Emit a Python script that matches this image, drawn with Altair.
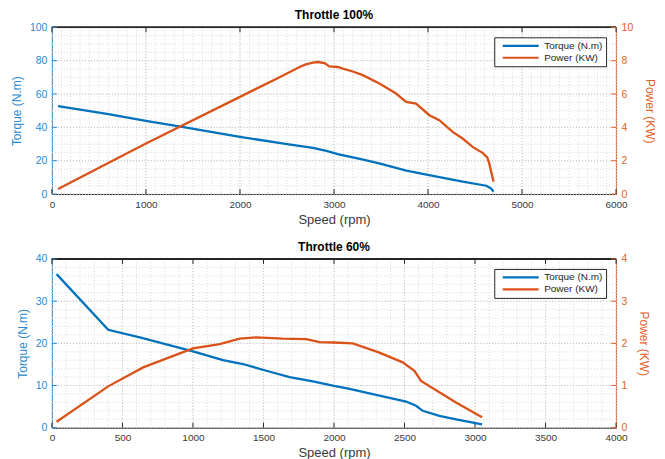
import altair as alt
import pandas as pd

# ---------------- data ----------------
SERIES = ["Torque (N.m)", "Power (KW)"]

# Throttle 100%
SPEED_100_T = [65, 300, 600, 1000, 1400, 2000, 2500, 2775, 2920, 3040, 3300, 3480, 3770, 4010, 4370, 4620, 4670, 4697]
TORQUE_100 = [52.8, 50.7, 47.9, 43.9, 40.2, 34.3, 30.0, 27.7, 25.9, 24.0, 20.8, 18.4, 14.0, 11.4, 7.4, 5.0, 3.4, 1.4]
SPEED_100_P = [65, 1000, 2000, 2400, 2634, 2700, 2775, 2830, 2900, 2950, 3040, 3094, 3200, 3306, 3483, 3660,
               3767, 3873, 4014, 4120, 4262, 4368, 4474, 4580, 4630, 4651, 4676, 4697]
POWER_100 = [0.3, 3.03, 5.83, 6.95, 7.62, 7.78, 7.88, 7.92, 7.86, 7.66, 7.62, 7.52, 7.35, 7.13, 6.63, 6.03,
             5.53, 5.43, 4.73, 4.43, 3.73, 3.33, 2.83, 2.47, 2.2, 1.84, 1.24, 0.74]

# Throttle 60%
SPEED_60_T = [33, 399, 623, 1000, 1213, 1354, 1520, 1685, 1850, 2000, 2110, 2322, 2511, 2582, 2629, 2747, 2865, 3050]
TORQUE_60 = [36.4, 23.2, 21.4, 18.1, 16.0, 15.1, 13.5, 12.0, 11.0, 9.9, 9.2, 7.6, 6.2, 5.2, 4.0, 2.8, 2.0, 0.8]
SPEED_60_P = [33, 399, 647, 1000, 1190, 1331, 1449, 1638, 1803, 1897, 2000, 2133, 2322, 2487, 2570, 2617, 2747, 2865, 3050]
POWER_60 = [0.14, 0.98, 1.43, 1.88, 1.98, 2.11, 2.14, 2.11, 2.10, 2.03, 2.02, 2.0, 1.78, 1.55, 1.35, 1.11, 0.84, 0.6, 0.25]

# ---------------- style ----------------
BLUE = "#0072BD"
ORANGE = "#D95319"
AX_BLUE = "#2a88cf"
AX_ORANGE = "#e0622a"
DARK = "#262626"
LABEL_GRAY = "#3a3a3a"
FONT = "Liberation Sans"
W = 565
TICK = 5


def panel(title, H, s_t, t, s_p, p, xmax, xstep, xminor, tmax, tstep, tminor, pmax, pstep):
    xscale = alt.Scale(domain=[0, xmax], nice=False, zero=False)
    tscale = alt.Scale(domain=[0, tmax], nice=False)
    pscale = alt.Scale(domain=[0, pmax], nice=False)

    x_major = list(range(0, xmax + 1, xstep))
    x_minor = list(range(0, xmax + 1, xminor))
    t_major = list(range(0, tmax + 1, tstep))
    t_minor = list(range(0, tmax + 1, tminor))
    p_major = list(range(0, pmax + 1, pstep))

    x_axis = alt.Axis(
        values=x_major, format="d", title="Speed (rpm)", grid=False, ticks=False,
        domainColor=DARK, labelColor=LABEL_GRAY, labelFontSize=10, labelFont=FONT,
        labelPadding=5, titleFontSize=13, titleFont=FONT, titleFontWeight="normal",
        titleColor=LABEL_GRAY, titlePadding=4, labelFlush=False)

    def X(field):
        return alt.X(field, scale=xscale, axis=x_axis, title="Speed (rpm)")

    df_xmaj = pd.DataFrame({"v": x_major})
    df_xmin = pd.DataFrame({"v": x_minor})
    df_tmaj = pd.DataFrame({"v": t_major})
    df_tmin = pd.DataFrame({"v": t_minor})
    df_pmaj = pd.DataFrame({"v": p_major})

    df_t = pd.DataFrame({"speed": s_t, "value": t, "series": SERIES[0]})
    df_p = pd.DataFrame({"speed": s_p, "value": p, "series": SERIES[1]})

    color = alt.Color(
        "series:N",
        scale=alt.Scale(domain=SERIES, range=[BLUE, ORANGE]),
        legend=alt.Legend(
            title=None, orient="top-right", offset=10, padding=3,
            fillColor="white", strokeColor=DARK,
            symbolType="M-1,0H8", symbolSize=64, symbolStrokeWidth=2.2, symbolOffset=4,
            labelOffset=32, labelFontSize=10, labelFont=FONT, labelColor=DARK,
            rowPadding=1,
        ),
    )

    grid_minor = dict(color="#d9d9d9", strokeDash=[1, 2], strokeWidth=1)
    grid_major = dict(color="#c4c4c4", strokeDash=[1, 2], strokeWidth=1)

    xgrid_minor = alt.Chart(df_xmin).mark_rule(**grid_minor).encode(x=X("v:Q"))
    ygrid_minor = alt.Chart(df_tmin).mark_rule(**grid_minor).encode(
        y=alt.Y("v:Q", scale=tscale, axis=None))
    xgrid_major = alt.Chart(df_xmaj).mark_rule(**grid_major).encode(x=X("v:Q"))
    ygrid_major = alt.Chart(df_tmaj).mark_rule(**grid_major).encode(
        y=alt.Y("v:Q", scale=tscale, axis=None))

    top_border = alt.Chart(df_xmaj).mark_rule(color=DARK, strokeWidth=1).encode(y=alt.value(0))

    top_ticks = alt.Chart(df_xmaj).mark_rule(color=DARK).encode(
        x=X("v:Q"), y=alt.value(0), y2=alt.value(TICK))
    bottom_ticks = alt.Chart(df_xmaj).mark_rule(color=DARK).encode(
        x=X("v:Q"), y=alt.value(H - TICK), y2=alt.value(H))
    left_ticks = alt.Chart(df_tmaj).mark_rule(color=AX_BLUE).encode(
        y=alt.Y("v:Q", scale=tscale, axis=None), x=alt.value(0), x2=alt.value(TICK))
    right_ticks = alt.Chart(df_pmaj).mark_rule(color=AX_ORANGE).encode(
        y=alt.Y("v:Q", scale=pscale, axis=None), x=alt.value(W - TICK), x2=alt.value(W))

    torque = alt.Chart(df_t).mark_line(strokeWidth=2.3).encode(
        x=X("speed:Q"),
        y=alt.Y("value:Q", scale=tscale, axis=alt.Axis(
            orient="left", values=t_major, format="d", title="Torque (N.m)", grid=False, ticks=False,
            domainColor=AX_BLUE, labelColor=AX_BLUE, labelFontSize=10.5, labelFont=FONT,
            labelPadding=5, titleFontSize=12, titleFont=FONT, titleFontWeight="normal",
            titleColor=AX_BLUE, titlePadding=6)),
        color=color,
    )
    power = alt.Chart(df_p).mark_line(strokeWidth=2.3).encode(
        x=X("speed:Q"),
        y=alt.Y("value:Q", scale=pscale, axis=alt.Axis(
            orient="right", values=p_major, format="d", title="Power (KW)", grid=False, ticks=False,
            domainColor=AX_ORANGE, labelColor=AX_ORANGE, labelFontSize=10.5, labelFont=FONT,
            labelPadding=5, titleFontSize=12, titleFont=FONT, titleFontWeight="normal",
            titleColor=AX_ORANGE, titlePadding=10)),
        color=color,
    )

    return alt.layer(
        xgrid_minor, ygrid_minor, xgrid_major, ygrid_major, top_border,
        top_ticks, bottom_ticks, left_ticks, right_ticks, torque, power,
    ).resolve_scale(y="independent").properties(
        width=W, height=H,
        title=alt.TitleParams(title, fontSize=12, fontWeight="bold", font=FONT, color="black",
                              anchor="middle", offset=0, frame="group"),
    )


top = panel("Throttle 100%", 167, SPEED_100_T, TORQUE_100, SPEED_100_P, POWER_100,
            6000, 1000, 100, 100, 20, 5, 10, 2)
bottom = panel("Throttle 60%", 169, SPEED_60_T, TORQUE_60, SPEED_60_P, POWER_60,
               4000, 500, 100, 40, 10, 2, 4, 1)

chart = alt.vconcat(top, bottom, spacing=13).resolve_scale(color="independent").resolve_legend(
    color="independent").properties(
    padding={"left": 1, "top": 0, "right": 0, "bottom": 0}
).configure_view(stroke=None).configure(font=FONT, background="white")

chart.save("out.html", embed_options={"renderer": "svg", "actions": False})
